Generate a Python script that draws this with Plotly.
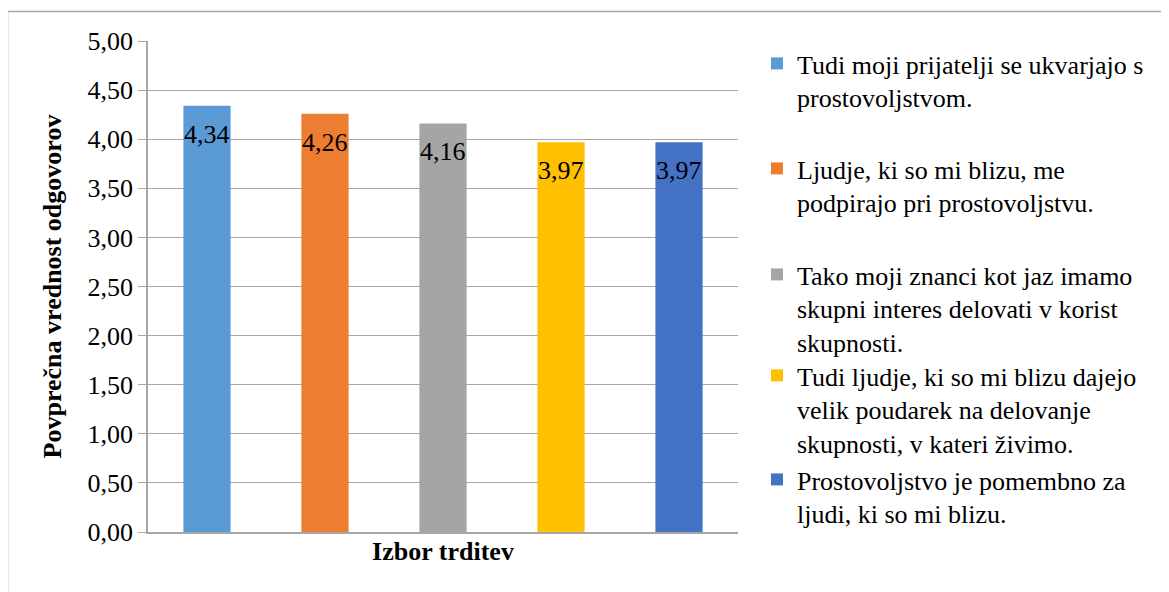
import plotly.graph_objects as go

# podatki
trditve = [
    "Tudi moji prijatelji se ukvarjajo s<br>prostovoljstvom.",
    "Ljudje, ki so mi blizu, me<br>podpirajo pri prostovoljstvu.",
    "Tako moji znanci kot jaz imamo<br>skupni interes delovati v korist<br>skupnosti.",
    "Tudi ljudje, ki so mi blizu dajejo<br>velik poudarek na delovanje<br>skupnosti, v kateri živimo.",
    "Prostovoljstvo je pomembno za<br>ljudi, ki so mi blizu.",
]
povprecja = [4.34, 4.26, 4.16, 3.97, 3.97]
oznake = ["4,34", "4,26", "4,16", "3,97", "3,97"]
barve = ["#5B9BD5", "#ED7D31", "#A5A5A5", "#FFC000", "#4472C4"]

# stran ima 8 px roba okoli grafa
OFF = 8
W, H = 1161, 584
L, R, T, B = 140, 431, 33, 60
FONT = "Liberation Serif"
SIVA = "#a6a6a6"


def px_x(p):
    return (p - OFF - L) / (W - L - R)


def px_y(p):
    return (H - B - (p - OFF)) / (H - T - B)


# vrh legend (v pikslih strani) za vsak vnos
legend_top = [40, 145, 251, 352, 456]

fig = go.Figure()
for i, (ime, val, barva) in enumerate(zip(trditve, povprecja, barve)):
    key = "legend" if i == 0 else f"legend{i + 1}"
    fig.add_trace(go.Bar(
        x=[i], y=[val], name=ime,
        marker=dict(color=barva, line=dict(width=0)),
        width=0.4,
        legend=key,
        hoverinfo="skip",
    ))
    fig.add_annotation(
        x=i, y=val, text=oznake[i], showarrow=False,
        yanchor="top", yshift=-12,
        font=dict(family=FONT, size=26, color="black"),
    )

legends = {}
for i, top in enumerate(legend_top):
    key = "legend" if i == 0 else f"legend{i + 1}"
    legends[key] = dict(
        x=px_x(757), xanchor="left",
        y=px_y(top), yanchor="top",
        font=dict(family=FONT, size=26, color="black"),
        bgcolor="rgba(0,0,0,0)", borderwidth=0,
        valign="top",
    )

fig.update_layout(
    width=W, height=H,
    margin=dict(l=L, r=R, t=T, b=B, autoexpand=False),
    paper_bgcolor="white", plot_bgcolor="white",
    separators=", ",
    font=dict(family=FONT, size=26, color="black"),
    showlegend=True,
    **legends,
)

fig.update_xaxes(
    range=[-0.5, 4.5], showticklabels=False, ticks="",
    showgrid=False, zeroline=False,
    showline=True, linecolor=SIVA, linewidth=1.5,
    title=dict(text="<b>Izbor trditev</b>", standoff=9,
               font=dict(family=FONT, size=26)),
)
fig.update_yaxes(
    range=[0, 5], dtick=0.5, tickformat=".2f",
    showgrid=True, gridcolor=SIVA, gridwidth=1.2,
    zeroline=False,
    showline=True, linecolor=SIVA, linewidth=1.5,
    ticks="outside", ticklen=8, tickcolor=SIVA, tickwidth=1.2,
    tickfont=dict(family=FONT, size=26),
    title=dict(text="<b>Povprečna vrednost odgovorov</b>", standoff=18,
               font=dict(family=FONT, size=26)),
)

# okvir grafikona
fig.add_shape(
    type="rect", xref="paper", yref="paper",
    x0=px_x(7.5), x1=px_x(1200), y0=px_y(620), y1=px_y(11.5),
    line=dict(color=SIVA, width=1.5), fillcolor="rgba(0,0,0,0)",
    layer="below",
)

fig.write_html("out.html")
